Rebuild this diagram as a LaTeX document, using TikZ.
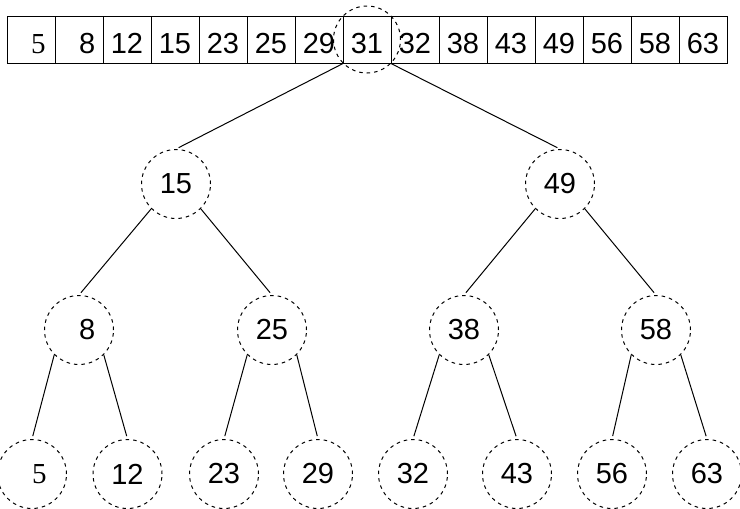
\documentclass[tikz,border=0pt]{standalone}
\usepackage{fontspec}
\setmainfont{Liberation Sans}
\newfontfamily\seriffont{Liberation Serif}
\begin{document}
\begin{tikzpicture}[x=1pt,y=-1pt,
  cell/.style={draw, line width=1pt, minimum width=48pt, minimum height=47pt,
    inner sep=0pt, text height=27.5pt, text depth=0pt, font=\fontsize{29}{31}\selectfont},
  tnode/.style={circle, draw, dash pattern=on 3.5pt off 4pt, line width=1pt,
    minimum size=69pt, inner sep=0pt, font=\fontsize{29}{31}\selectfont},
  link/.style={line width=1pt, shorten >=3pt}]
\useasboundingbox (0,0) rectangle (740,509);
% array
\node[cell] (c1) at (31,39.5) {\seriffont\phantom{0}5};
\node[cell] (c2) at (79,39.5) {\phantom{0}8};
\node[cell] (c3) at (127,39.5) {12};
\node[cell] (c4) at (175,39.5) {15};
\node[cell] (c5) at (223,39.5) {23};
\node[cell] (c6) at (271,39.5) {25};
\node[cell] (c7) at (319,39.5) {29};
\node[cell] (c8) at (367,39.5) {31};
\node[cell] (c9) at (415,39.5) {32};
\node[cell] (c10) at (463,39.5) {38};
\node[cell] (c11) at (511,39.5) {43};
\node[cell] (c12) at (559,39.5) {49};
\node[cell] (c13) at (607,39.5) {56};
\node[cell] (c14) at (655,39.5) {58};
\node[cell] (c15) at (703,39.5) {63};
% tree
\node[tnode, minimum size=67pt] (root) at (c8.center) {};
\node[tnode] (n15) at (176,184) {15};
\node[tnode] (n49) at (560,184) {49};
\node[tnode] (n8) at (79,330) {\phantom{0}8};
\node[tnode] (n25) at (272,330) {25};
\node[tnode] (n38) at (464,330) {38};
\node[tnode] (n58) at (656,330) {58};
\node[tnode] (n5) at (32,474) {\seriffont\phantom{0}5};
\node[tnode] (n12) at (127.5,474) {12};
\node[tnode] (n23) at (224,474) {23};
\node[tnode] (n29) at (318,474) {29};
\node[tnode] (n32) at (413,474) {32};
\node[tnode] (n43) at (517,474) {43};
\node[tnode] (n56) at (612,474) {56};
\node[tnode] (n63) at (707,474) {63};
% edges
\draw[link] (root.south west) -- (n15.north);
\draw[link] (root.south east) -- (n49.north);
\draw[link] (n15.south west) -- (n8.north);
\draw[link] (n15.south east) -- (n25.north);
\draw[link] (n49.south west) -- (n38.north);
\draw[link] (n49.south east) -- (n58.north);
\draw[link] (n8.south west) -- (n5.north);
\draw[link] (n8.south east) -- (n12.north);
\draw[link] (n25.south west) -- (n23.north);
\draw[link] (n25.south east) -- (n29.north);
\draw[link] (n38.south west) -- (n32.north);
\draw[link] (n38.south east) -- (n43.north);
\draw[link] (n58.south west) -- (n56.north);
\draw[link] (n58.south east) -- (n63.north);
\end{tikzpicture}
\end{document}
